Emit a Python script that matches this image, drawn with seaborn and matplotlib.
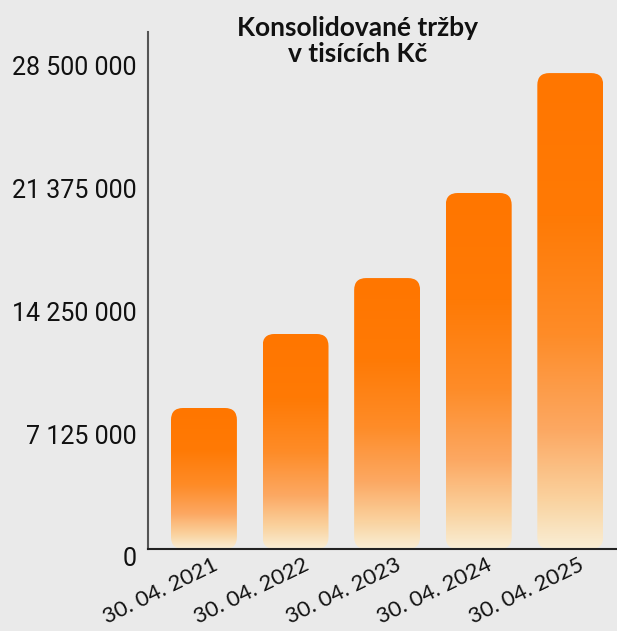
import numpy as np
import pandas as pd
import matplotlib.pyplot as plt
import matplotlib.transforms as mtransforms
from matplotlib.colors import LinearSegmentedColormap
from matplotlib.patches import FancyBboxPatch
import seaborn as sns

# Data
dates = ["30. 04. 2021", "30. 04. 2022", "30. 04. 2023", "30. 04. 2024", "30. 04. 2025"]
revenue = [8170000, 12460000, 15700000, 20630000, 27580000]
ytick_values = [0, 7125000, 14250000, 21375000, 28500000]
ytick_labels = ["0", "7 125 000", "14 250 000", "21 375 000", "28 500 000"]

df = pd.DataFrame({"date": dates, "revenue": revenue})

bg = "#eaeaea"
sns.set_style("white")
plt.rcParams["font.family"] = ["Lato", "DejaVu Sans"]

fig = plt.figure(figsize=(6.17, 6.31), dpi=100, facecolor=bg)
ax = fig.add_axes([0.240, 0.130, 0.760, 0.819])
ax.set_facecolor(bg)

sns.barplot(data=df, x="date", y="revenue", width=0.72, color="#ff7700", ax=ax)

ax.set_xlim(-0.61, 4.51)
ax.set_ylim(0, 29.95e6)

# gradient: t=0 bottom, t=1 top of each bar
grad = LinearSegmentedColormap.from_list("bar", [
    (0.0, "#f9eed5"),
    (0.10, "#fad3a0"),
    (0.25, "#fca862"),
    (0.45, "#fe8c28"),
    (0.70, "#ff7a05"),
    (1.0, "#ff7600"),
])
gimg = np.linspace(0, 1, 256).reshape(-1, 1)

# corner radius ~12px, convert to data units
px_x = 5.12 / (0.760 * 617)
px_y = 29.95e6 / (0.819 * 631)
for p in list(ax.patches):
    x0, y0 = p.get_x(), p.get_y()
    w, h = p.get_width(), p.get_height()
    p.set_visible(False)
    clip = FancyBboxPatch((x0, y0), w, h,
                          boxstyle=f"round,pad=0,rounding_size={12 * px_x}",
                          mutation_aspect=px_y / px_x,
                          facecolor="none", edgecolor="none", transform=ax.transData)
    ax.add_patch(clip)
    im = ax.imshow(gimg, cmap=grad, origin="lower", aspect="auto",
                   extent=[x0, x0 + w, y0, y0 + h], zorder=2)
    im.set_clip_path(clip)

ax.set_xlim(-0.61, 4.51)
ax.set_ylim(0, 29.95e6)

ax.set_yticks(ytick_values)
ax.set_yticklabels(ytick_labels, fontfamily="Roboto", fontsize=18, color="#111111")
ax.tick_params(axis="y", length=0, pad=8)
ax.tick_params(axis="x", length=0, pad=4)
for lbl in ax.get_yticklabels():
    lbl.set_transform(lbl.get_transform() + mtransforms.ScaledTranslation(0, -0.08, fig.dpi_scale_trans))

ax.set_xticks(range(len(dates)))
ax.set_xticklabels(dates, rotation=26, ha="right", va="top", rotation_mode="anchor",
                   fontsize=16, color="#111111")
for lbl in ax.get_xticklabels():
    lbl.set_transform(lbl.get_transform() + mtransforms.ScaledTranslation(0.08, 0, fig.dpi_scale_trans))

ax.set_xlabel("")
ax.set_ylabel("")

for side in ["top", "right"]:
    ax.spines[side].set_visible(False)
ax.spines["left"].set_color("#555555")
ax.spines["left"].set_linewidth(1.5)
ax.spines["bottom"].set_color("#222222")
ax.spines["bottom"].set_linewidth(1.5)

fig.text(0.579, 1 - 41 / 631, "Konsolidované tržby\nv tisících Kč", ha="center", va="center",
         fontsize=19, fontweight="bold", color="#111111", linespacing=1.15)

fig.savefig("out.png", dpi=100, facecolor=bg)
